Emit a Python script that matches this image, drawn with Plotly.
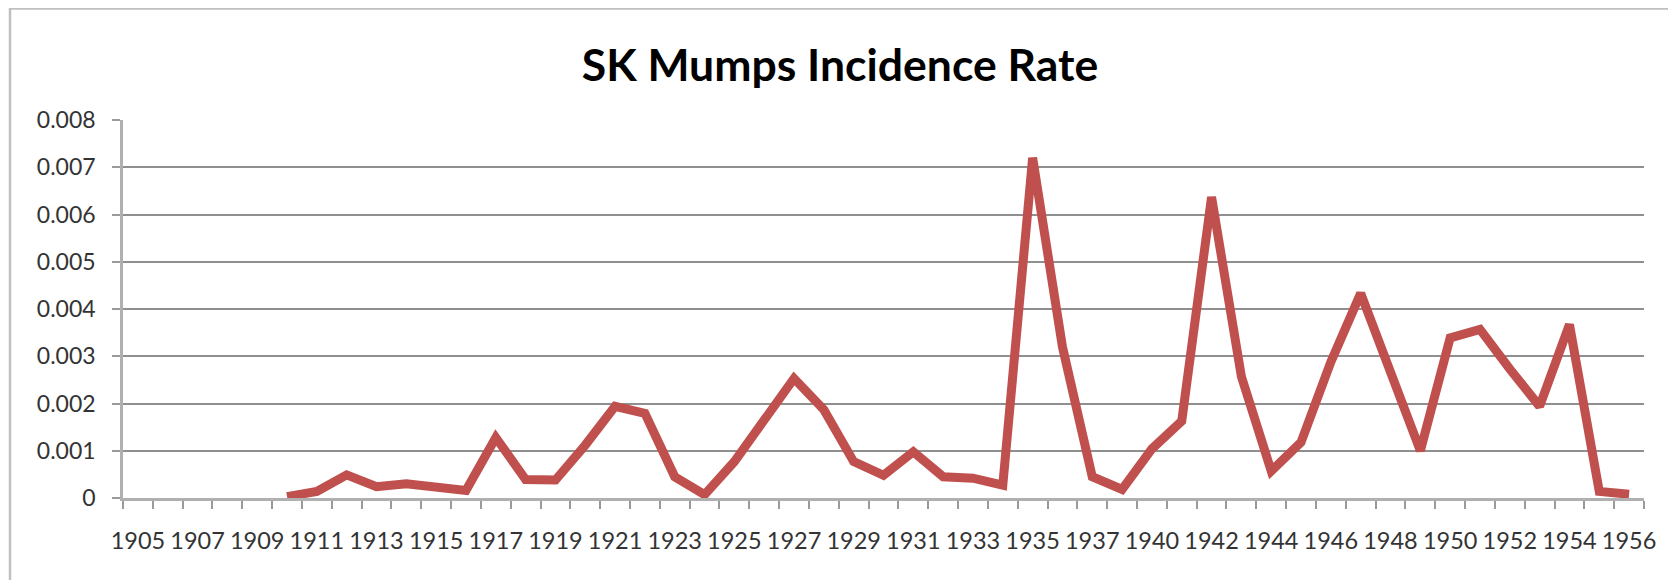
import plotly.graph_objects as go

years = [1905, 1906, 1907, 1908, 1909, 1910, 1911, 1912, 1913, 1914, 1915, 1916,
         1917, 1918, 1919, 1920, 1921, 1922, 1923, 1924, 1925, 1926, 1927, 1928,
         1929, 1930, 1931, 1932, 1933, 1934, 1935, 1936, 1937, 1938, 1940, 1941,
         1942, 1943, 1944, 1945, 1946, 1947, 1948, 1949, 1950, 1951, 1952, 1953,
         1954, 1955, 1956]

rates = [None, None, None, None, None, 0.00003, 0.00014, 0.00049, 0.00024, 0.00030,
         0.00022, 0.00016, 0.00128, 0.00039, 0.00038, 0.00112, 0.00194, 0.00179,
         0.00045, 0.00007, 0.00077, 0.00167, 0.00253, 0.00187, 0.00077, 0.00048,
         0.00098, 0.00045, 0.00042, 0.00027, 0.00720, 0.00320, 0.00045, 0.00018,
         0.00104, 0.00163, 0.00637, 0.00257, 0.00057, 0.00118, 0.00288, 0.00433,
         0.00261, 0.00100, 0.00339, 0.00357, 0.00273, 0.00194, 0.00367, 0.00014,
         0.00008]

y_ticks = [0, 0.001, 0.002, 0.003, 0.004, 0.005, 0.006, 0.007, 0.008]
y_labels = ["0", "0.001", "0.002", "0.003", "0.004", "0.005", "0.006", "0.007", "0.008"]

cats = [str(y) for y in years]
tick_text = [c if i % 2 == 0 else "" for i, c in enumerate(cats)]

# the page body adds an 8px offset, so positions are given in figure coordinates
W, H = 1676, 580
ml, mr, mt, mb = 115, 40, 112, 90
pw, ph = W - ml - mr, H - mt - mb

fig = go.Figure()
fig.add_trace(go.Scatter(
    x=cats, y=rates, mode="lines",
    line=dict(color="#C0504D", width=9, shape="linear"),
    connectgaps=False, showlegend=False, hoverinfo="x+y",
))

font_family = "Lato, 'Open Sans', sans-serif"

fig.update_layout(
    width=W, height=H,
    margin=dict(l=ml, r=mr, t=mt, b=mb, pad=0),
    paper_bgcolor="white", plot_bgcolor="white",
    title=dict(text="<b>SK Mumps Incidence Rate</b>",
               x=(832 - ml) / pw, xref="paper", xanchor="center",
               y=1 - 57 / H, yref="container", yanchor="middle",
               font=dict(family=font_family, size=44.5, color="#000000")),
    xaxis=dict(
        type="category", categoryorder="array", categoryarray=cats,
        tickmode="array", tickvals=cats, ticktext=tick_text,
        tickson="boundaries", ticks="outside", ticklen=8, tickwidth=1.5,
        tickcolor="#9a9a9a", showline=True, linecolor="#b0b0b0", linewidth=2.5,
        showgrid=False, zeroline=False, tickangle=0,
        ticklabelstandoff=20,
        tickfont=dict(family=font_family, size=23.5, color="#333333"),
        range=[-0.5, len(cats) - 0.5], fixedrange=True,
    ),
    yaxis=dict(
        range=[0, 0.008], tickmode="array", tickvals=y_ticks, ticktext=y_labels,
        ticks="outside", ticklen=8, tickwidth=2, tickcolor="#9a9a9a",
        showline=True, linecolor="#b0b0b0", linewidth=2.5,
        showgrid=True, gridcolor="#8f8f8f", gridwidth=2,
        zeroline=False, ticklabelstandoff=12,
        tickfont=dict(family=font_family, size=23, color="#333333"),
        fixedrange=True,
    ),
)

# outer chart frame
fig.add_shape(type="rect", xref="paper", yref="paper",
              x0=(2 - ml) / pw, x1=(1662 - ml) / pw,
              y0=(H - mb - 600) / ph, y1=(H - mb - 0.5) / ph,
              line=dict(color="#c0c0c0", width=2.5), fillcolor="rgba(0,0,0,0)",
              layer="below")

fig.write_html("out.html")
